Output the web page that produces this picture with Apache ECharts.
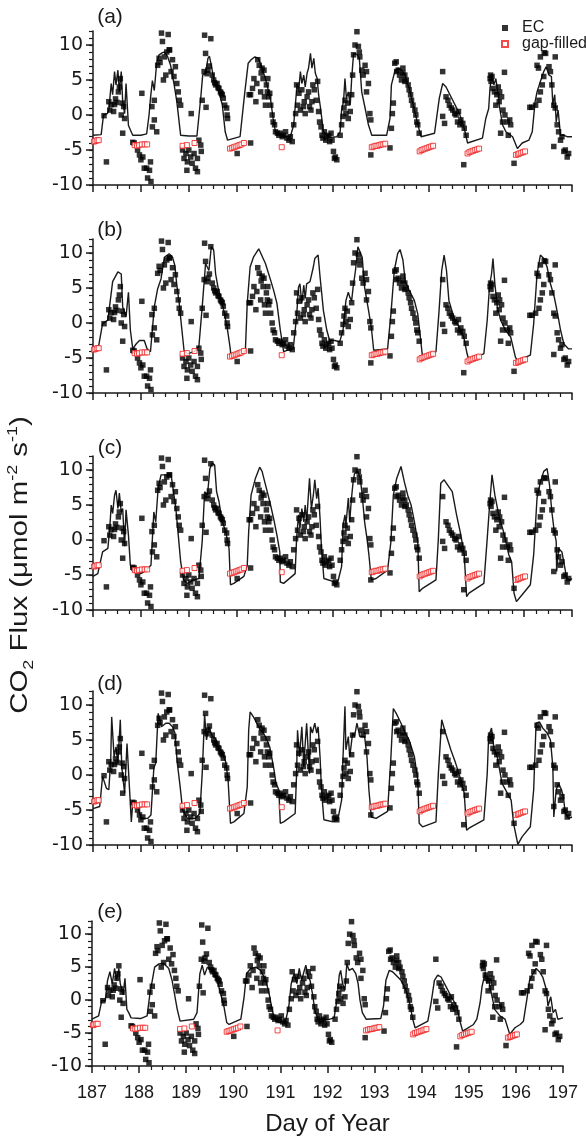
<!DOCTYPE html>
<html>
<head>
<meta charset="utf-8">
<script src="https://cdn.jsdelivr.net/npm/echarts@6/dist/echarts.min.js"></script>
<style>
html, body { margin: 0; padding: 0; background: #fff; }
#chart { width: 586px; height: 1137px; }
</style>
</head>
<body>
<div id="chart"></div>
<script>
// eddy covariance observations [day of year, flux], same in every panel
var ecObs = [
  [187.23,-0.1],[187.28,-6.7],[187.33,1.9],[187.35,0.7],[187.38,1.5],[187.43,0.5],[187.45,1.5],[187.47,2.3],[187.5,1.8],[187.53,3.3],[187.55,4.0],[187.57,5.2],[187.59,0],[187.61,1.7],[187.62,-2.6],[187.64,1.2],[187.66,-0.5],
  [187.83,-3.9],[187.86,-4.0],[187.93,-5.0],[187.97,-5.7],[188.0,-6.4],[188.02,3.1],[188.04,-6.0],[188.07,-7.6],[188.12,-7.6],[188.14,-9.0],[188.18,-7.9],[188.2,-6.7],[188.21,-9.5],
  [188.23,1.2],[188.24,-1.7],[188.28,-0.7],[188.28,2.1],[188.33,-2.4],[188.35,7.1],[188.38,8.1],[188.4,7.5],[188.43,11.7],[188.45,10.5],[188.47,5.0],[188.49,8.3],[188.52,5.7],[188.54,9.0],[188.57,11.5],[188.59,9.3],[188.6,9.3],[188.63,6.2],[188.66,7.9],[188.69,5.5],[188.72,6.9],[188.75,4.5],[188.78,3.3],[188.8,2.1],[188.83,1.4],
  [188.87,-5.0],[188.9,-6.2],[188.94,-5.5],[188.96,-7.9],[188.97,-6.7],[189.0,-5.0],[189.04,-6.0],[189.05,0.2],[189.07,-6.9],[189.11,-5.5],[189.14,-7.6],[189.18,-8.1],[189.18,-6.2],[189.21,-3.6],[189.25,-4.3],[189.26,-5.2],
  [189.28,2.1],[189.32,6.2],[189.33,11.4],[189.35,8.8],[189.36,1.1],[189.38,5.9],[189.4,6.4],[189.43,7.0],[189.46,10.9],[189.49,5.7],[189.52,5.0],[189.54,4.6],[189.56,4.3],[189.59,4.5],[189.61,3.9],[189.63,3.8],[189.66,3.3],[189.68,3.1],[189.7,2.9],[189.72,2.4],[189.75,1.4],[189.79,1.0],[189.8,0],[189.81,-0.5],
  [190.01,-5.5],[190.29,-4.0],
  [190.26,2.9],[190.29,2.9],[190.33,3.8],[190.36,5.2],[190.4,1.9],[190.42,4.5],[190.44,7.9],[190.47,7.1],[190.5,3.3],[190.51,6.0],[190.53,6.7],[190.55,5.2],[190.57,6.4],[190.58,2.6],[190.6,1.4],[190.62,4.3],[190.64,3.3],[190.65,5.2],[190.67,2.6],[190.69,3.1],[190.71,1.4],[190.74,0],[190.76,-1.0],[190.79,-1.4],[190.81,-2.4],[190.85,-2.6],[190.88,-2.9],[190.91,-2.6],[190.95,-3.1],[190.98,-2.9],[191.02,-2.4],[191.05,-3.3],[191.09,-3.6],[191.12,-3.1],[191.16,-3.8],
  [191.19,-1.4],[191.23,0.2],[191.25,4.3],[191.27,1.4],[191.3,3.1],[191.33,0.7],[191.36,3.6],[191.39,1.2],[191.41,1.9],[191.43,0.2],[191.47,2.6],[191.5,3.3],[191.52,1.2],[191.55,0.7],[191.57,1.9],[191.59,4.3],[191.62,3.6],[191.66,2.1],[191.69,4.8],[191.71,0.5],[191.73,-1.0],[191.76,-1.7],[191.78,-2.9],[191.8,-3.3],[191.83,-2.4],[191.86,-3.6],[191.88,-3.1],[191.92,-2.9],[191.94,-3.8],[191.97,-2.6],[191.99,-3.6],[192.02,-5.2],[192.04,-6.2],[192.06,-6.0],[192.09,-6.4],
  [192.16,-2.9],[192.19,-1.4],[192.22,-0.2],[192.24,1.0],[192.26,2.1],[192.28,0.2],[192.31,1.7],[192.33,-0.5],[192.37,0.5],[192.4,2.9],[192.42,5.7],[192.44,8.6],[192.47,10.0],[192.51,11.9],[192.54,9.8],[192.56,9.0],[192.57,8.3],[192.61,6.4],[192.64,5.7],[192.68,7.1],[192.71,6.2],[192.71,3.3],[192.75,4.5],[192.78,0.2],[192.8,-0.7],[192.8,-5.7],[193.2,-4.7],
  [193.23,-1.9],[193.25,0.2],[193.27,1.7],[193.3,7.4],[193.33,7.6],[193.34,6.2],[193.37,6.4],[193.4,5.7],[193.44,5.0],[193.47,6.0],[193.47,6.7],[193.51,4.8],[193.51,5.7],[193.54,5.0],[193.58,4.3],[193.6,3.6],[193.63,2.9],[193.65,2.1],[193.68,1.4],[193.72,0.7],[193.74,0],[193.76,-1.0],[193.78,-1.4],[193.81,-2.6],
  [194.3,6.2],[194.3,-0.2],[194.34,-1.2],[194.37,2.6],[194.41,2.1],[194.44,1.4],[194.48,1.0],[194.51,0.7],[194.55,0.2],[194.58,0],[194.61,-1.0],[194.63,0.5],[194.66,-1.4],[194.68,-0.7],[194.72,-1.2],[194.74,-7.1],[194.75,-1.9],[194.79,-2.9],
  [195.29,5.2],[195.3,5.7],[195.31,4.8],[195.33,5.5],[195.35,3.8],[195.38,3.3],[195.41,1.4],[195.43,2.9],[195.46,4.0],[195.48,1.9],[195.49,3.3],[195.51,-2.6],[195.53,2.6],[195.55,-1.0],[195.56,0.7],[195.59,6.1],[195.6,0],[195.65,-1.0],[195.67,-2.9],[195.7,-0.7],[195.72,-1.4],[195.79,-6.9],
  [196.12,1.1],[196.16,1.1],[196.24,1.4],[196.27,7.1],[196.3,6.7],[196.31,2.1],[196.34,3.3],[196.34,8.3],[196.38,4.3],[196.41,5.5],[196.42,8.9],[196.45,8.8],[196.52,6.9],[196.55,6.2],[196.58,4.3],[196.62,1.4],[196.62,-4.5],[196.65,8.3],[196.65,1.0],[196.69,-1.4],[196.72,-2.4],[196.76,-3.6],[196.79,-3.1],[196.83,-5.2],[196.86,-5.0],[196.9,-6.0],[196.93,-5.5]
];

// gap-filled night values
var gapFilled = [
  [187.02,-3.8],[187.05,-3.7],[187.09,-3.6],[187.12,-3.6],
  [187.87,-4.3],[187.92,-4.4],[187.96,-4.3],[188.02,-4.2],[188.08,-4.2],[188.13,-4.2],
  [188.87,-4.4],[188.96,-4.3],[189.12,-4.0],
  [189.86,-4.8],[189.9,-4.7],[189.94,-4.6],[189.98,-4.5],[190.02,-4.4],[190.06,-4.3],[190.1,-4.2],[190.15,-4.0],
  [190.94,-4.6],
  [192.82,-4.6],[192.86,-4.5],[192.9,-4.4],[192.94,-4.4],[192.98,-4.3],[193.02,-4.2],[193.06,-4.2],[193.1,-4.1],
  [193.82,-5.2],[193.86,-5.0],[193.9,-4.9],[193.94,-4.8],[193.98,-4.7],[194.02,-4.6],[194.06,-4.5],[194.1,-4.4],
  [194.82,-5.5],[194.86,-5.3],[194.9,-5.2],[194.94,-5.1],[194.98,-5.0],[195.02,-4.9],[195.06,-4.8],
  [195.83,-5.7],[195.87,-5.6],[195.9,-5.5],[195.94,-5.4],[195.98,-5.3],[196.02,-5.2]
];

// modelled flux, one line per panel
var modelA = [
  [187.0,-2.9],[187.17,-2.8],[187.22,0],[187.3,0.2],[187.33,0.7],[187.38,4.5],[187.41,2.9],[187.45,6.2],[187.48,4.3],[187.52,6.4],[187.55,3.3],[187.59,6.2],[187.62,1.9],[187.66,0.2],[187.69,4.5],[187.74,-1.5],[187.78,-1.7],[187.83,-2.9],
  [188.0,-2.9],[188.12,-2.7],[188.17,0],[188.2,2.4],[188.24,4.9],[188.28,3.5],[188.33,7.5],[188.38,8.6],[188.45,8.9],[188.5,9.0],[188.56,8.3],[188.62,7.1],[188.69,4.5],[188.75,1.9],[188.83,-2.9],
  [189.0,-3.0],[189.17,-3.0],[189.25,2.5],[189.29,5.7],[189.35,6.0],[189.4,8.1],[189.43,8.4],[189.47,7.1],[189.53,4.8],[189.63,3.3],[189.7,1.4],[189.76,-2.4],[189.81,-3.6],
  [190.07,-3.1],[190.17,3.3],[190.24,7.4],[190.3,7.9],[190.38,8.3],[190.45,8.1],[190.53,6.7],[190.6,5.2],[190.65,3.8],[190.71,2.1],[190.76,-0.5],[190.81,-2.4],[190.85,-2.9],
  [191.12,-3.1],[191.19,-1.4],[191.23,1.9],[191.26,4.5],[191.29,3.3],[191.33,6.2],[191.36,4.5],[191.4,5.7],[191.43,4.0],[191.47,6.0],[191.5,6.7],[191.54,8.8],[191.57,6.7],[191.61,8.1],[191.64,6.0],[191.68,5.2],[191.71,2.9],[191.75,1.0],[191.81,-2.4],[191.88,-2.9],[191.95,-3.2],
  [192.09,-3.1],[192.16,-2.4],[192.19,0.7],[192.23,1.9],[192.26,5.2],[192.29,2.4],[192.33,3.3],[192.37,1.4],[192.4,5.2],[192.44,8.8],[192.47,9.0],[192.52,8.6],[192.56,8.1],[192.61,3.3],[192.68,1.0],[192.75,-1.4],[192.82,-2.9],
  [193.13,-2.9],[193.2,-0.5],[193.23,4.3],[193.3,6.2],[193.37,6.7],[193.44,6.4],[193.51,5.7],[193.61,3.6],[193.71,0.7],[193.82,-2.4],[193.85,-3.1],
  [194.13,-2.6],[194.23,2.4],[194.3,4.5],[194.37,4.0],[194.51,2.1],[194.65,0.2],[194.75,-1.9],[194.82,-4.0],
  [195.13,-3.3],[195.2,-0.5],[195.26,0.9],[195.29,4.0],[195.33,5.7],[195.37,4.3],[195.41,5.2],[195.45,3.3],[195.49,1.0],[195.55,-1.4],[195.62,-2.4],[195.76,-3.1],[195.86,-4.8],[195.96,-4.0],
  [196.1,-3.6],[196.17,-2.4],[196.23,1.9],[196.27,3.3],[196.34,4.8],[196.41,6.2],[196.46,6.9],[196.52,5.7],[196.57,5.5],[196.6,1.4],[196.64,2.9],[196.67,-1.0],[196.71,0.7],[196.76,-2.9],[196.83,-2.9],[196.9,-3.1],[197.0,-3.1]
];
var modelB = [
  [187.0,-3.7],[187.12,-3.2],[187.2,-0.1],[187.31,0.4],[187.41,5.9],[187.48,6.8],[187.52,7.3],[187.59,7.0],[187.62,2.3],[187.69,0.9],[187.74,4.4],[187.78,-1.0],[187.83,-3.7],[187.9,-3.0],[187.97,-2.5],
  [188.07,-2.5],[188.13,-3.7],[188.2,-4.1],[188.28,2.3],[188.35,4.9],[188.42,6.3],[188.49,9.4],[188.59,9.9],[188.66,9.4],[188.71,8.2],[188.75,5.4],[188.8,2.8],[188.85,-0.6],[188.9,-3.9],[188.97,-4.4],
  [189.11,-4.1],[189.21,-3.4],[189.28,2.3],[189.35,8.5],[189.42,7.5],[189.47,10.9],[189.52,10.4],[189.56,7.0],[189.61,5.1],[189.66,3.7],[189.73,1.8],[189.8,-0.6],[189.86,-3.4],[189.88,-4.6],
  [190.18,-4.1],[190.22,2.8],[190.28,8.0],[190.35,9.4],[190.46,10.6],[190.49,10.4],[190.6,8.5],[190.7,6.3],[190.77,4.7],[190.84,2.8],[190.91,-1.0],[190.98,-4.1],
  [191.05,-3.9],[191.18,-3.7],[191.25,0.9],[191.29,5.1],[191.32,5.6],[191.36,2.8],[191.4,5.4],[191.43,3.5],[191.46,5.6],[191.53,5.9],[191.6,8.0],[191.63,9.2],[191.67,9.4],[191.7,9.7],[191.74,6.6],[191.81,1.8],[191.88,-1.0],[191.94,-2.5],
  [192.05,-2.5],[192.15,-2.7],[192.22,-1.0],[192.28,3.2],[192.33,4.4],[192.36,3.7],[192.4,3.2],[192.43,5.1],[192.48,7.5],[192.53,10.9],[192.57,11.0],[192.62,9.4],[192.67,5.1],[192.74,2.3],[192.81,-0.6],[192.86,-3.9],
  [193.15,-3.7],[193.22,1.3],[193.29,7.5],[193.36,9.9],[193.41,10.5],[193.47,9.0],[193.52,5.9],[193.6,4.7],[193.71,3.2],[193.78,1.3],[193.85,-3.0],[193.88,-4.9],
  [194.16,-4.1],[194.22,1.3],[194.28,7.5],[194.33,9.7],[194.38,7.5],[194.43,3.2],[194.53,0.9],[194.64,-0.6],[194.74,-2.0],[194.81,-4.4],[194.84,-5.1],
  [195.16,-4.4],[195.23,0.4],[195.28,5.4],[195.32,7.0],[195.35,9.2],[195.39,5.6],[195.44,2.3],[195.51,0.4],[195.61,-1.0],[195.72,-2.0],[195.82,-4.9],[195.89,-5.6],[195.96,-5.1],
  [196.13,-4.6],[196.2,-0.1],[196.27,7.0],[196.34,9.7],[196.41,9.2],[196.48,8.0],[196.55,5.6],[196.63,3.7],[196.7,1.3],[196.76,-1.0],[196.83,-3.0],[196.93,-3.7],[197.0,-3.7]
];
var modelC = [
  [187.0,-5.2],[187.1,-4.8],[187.2,-1.7],[187.31,-1.2],[187.35,1.7],[187.38,5.0],[187.41,3.8],[187.45,6.4],[187.48,7.1],[187.52,4.5],[187.55,6.7],[187.59,4.0],[187.62,4.5],[187.66,-0.9],[187.69,4.3],[187.74,0.7],[187.78,-3.6],[187.83,-4.5],[187.9,-4.3],
  [188.0,-4.8],[188.11,-4.3],[188.21,-3.6],[188.27,4.0],[188.31,2.6],[188.36,7.4],[188.42,9.3],[188.49,9.3],[188.63,9.3],[188.68,6.9],[188.73,4.5],[188.78,0.7],[188.83,-3.1],[188.89,-5.7],[188.97,-6.2],
  [189.11,-5.7],[189.21,-5.5],[189.28,-0.2],[189.33,6.9],[189.39,6.4],[189.44,10.2],[189.49,11.0],[189.54,10.7],[189.58,6.9],[189.63,5.5],[189.7,2.6],[189.77,1.2],[189.84,-1.2],[189.87,-6.4],[189.94,-6.2],
  [190.15,-5.2],[190.22,-3.6],[190.25,1.2],[190.3,6.4],[190.39,8.8],[190.48,10.4],[190.53,9.8],[190.6,7.9],[190.69,5.5],[190.77,3.1],[190.84,0.7],[190.9,-1.7],[190.91,-6.0],[190.98,-6.2],
  [191.22,-4.8],[191.25,0.2],[191.29,3.6],[191.32,1.7],[191.36,4.5],[191.4,2.6],[191.43,5.0],[191.46,2.6],[191.52,8.8],[191.56,4.5],[191.6,6.4],[191.63,8.6],[191.67,5.9],[191.7,7.4],[191.74,3.1],[191.77,-1.2],[191.82,-5.5],
  [192.01,-5.9],[192.11,-6.0],[192.19,-3.8],[192.22,2.1],[192.26,3.6],[192.28,2.1],[192.33,6.0],[192.36,2.6],[192.39,5.5],[192.43,8.3],[192.46,9.5],[192.53,9.8],[192.58,8.8],[192.62,6.4],[192.67,2.6],[192.72,0.2],[192.76,-2.1],[192.81,-5.7],[192.91,-5.5],
  [193.15,-4.3],[193.22,-0.2],[193.27,6.4],[193.34,8.8],[193.43,10.5],[193.5,8.3],[193.57,6.4],[193.64,5.0],[193.71,2.6],[193.78,-0.2],[193.81,-7.4],[193.88,-6.9],
  [194.16,-5.7],[194.21,0.2],[194.26,8.1],[194.33,8.6],[194.43,7.6],[194.5,6.9],[194.59,3.6],[194.68,0.7],[194.75,-2.1],[194.8,-8.1],[194.85,-7.6],
  [195.16,-6.2],[195.23,0.2],[195.28,5.0],[195.33,9.3],[195.39,6.4],[195.47,3.6],[195.57,1.2],[195.68,-2.1],[195.74,-3.1],[195.79,-7.6],[195.84,-8.8],[195.95,-7.9],
  [196.13,-6.4],[196.2,-2.1],[196.27,6.0],[196.34,8.3],[196.41,9.8],[196.48,10.2],[196.53,7.9],[196.58,4.0],[196.63,1.2],[196.67,-0.2],[196.68,-4.5],[196.72,-1.2],[196.79,-1.7],[196.84,-3.6],[196.89,-5.5],[196.96,-5.7],[197.0,-5.5]
];
var modelD = [
  [187.0,-4.8],[187.14,-4.5],[187.2,-0.2],[187.28,-1.9],[187.33,-2.1],[187.37,2.1],[187.39,8.3],[187.44,2.6],[187.48,4.0],[187.52,1.7],[187.57,7.9],[187.6,1.2],[187.66,-2.6],[187.71,4.5],[187.76,-1.7],[187.8,-6.7],[187.83,-4.0],[187.93,-4.3],
  [188.0,-6.2],[188.14,-6.2],[188.21,-5.7],[188.27,1.0],[188.31,1.7],[188.36,8.8],[188.43,6.9],[188.52,7.4],[188.59,7.4],[188.66,6.9],[188.71,6.0],[188.76,1.7],[188.82,-1.7],[188.87,-5.0],[188.97,-6.2],
  [189.14,-6.2],[189.23,-5.5],[189.28,0.2],[189.33,8.6],[189.37,5.0],[189.42,6.9],[189.49,5.5],[189.56,5.2],[189.63,3.6],[189.7,3.1],[189.77,1.9],[189.82,-0.7],[189.87,-6.9],[189.94,-6.7],
  [190.15,-5.5],[190.22,-1.7],[190.25,6.4],[190.28,9.0],[190.35,8.3],[190.42,7.4],[190.49,6.4],[190.56,6.0],[190.63,5.0],[190.69,4.0],[190.73,2.6],[190.78,0.7],[190.82,-1.2],[190.88,-2.1],[190.91,-6.9],[190.98,-6.7],
  [191.22,-5.5],[191.25,0.2],[191.27,6.4],[191.31,2.6],[191.36,6.9],[191.4,1.2],[191.43,4.5],[191.46,7.4],[191.52,0.2],[191.54,6.9],[191.58,6.0],[191.63,7.4],[191.67,6.0],[191.7,6.9],[191.74,2.6],[191.77,-2.1],[191.82,-6.4],
  [192.01,-6.7],[192.11,-6.4],[192.19,-3.6],[192.22,2.6],[192.26,9.8],[192.28,3.6],[192.33,5.5],[192.36,2.6],[192.42,6.0],[192.46,5.5],[192.51,7.4],[192.57,5.5],[192.67,5.5],[192.72,2.6],[192.76,-2.1],[192.81,-6.0],[192.91,-6.2],
  [193.15,-5.2],[193.22,2.6],[193.27,9.5],[193.33,8.8],[193.43,7.4],[193.52,6.0],[193.6,5.0],[193.71,2.6],[193.78,-0.7],[193.81,-6.9],[193.88,-7.4],
  [194.16,-6.7],[194.21,0.2],[194.28,7.9],[194.36,6.0],[194.47,3.6],[194.57,1.7],[194.68,-0.7],[194.75,-2.6],[194.8,-7.9],[194.85,-7.6],
  [195.16,-6.4],[195.23,0.2],[195.26,5.5],[195.32,6.7],[195.37,3.8],[195.44,2.6],[195.54,-1.2],[195.65,-2.6],[195.73,-3.6],[195.78,-6.9],[195.87,-9.9],[195.96,-8.8],
  [196.13,-7.4],[196.2,-2.1],[196.25,7.4],[196.32,7.6],[196.39,6.7],[196.48,6.0],[196.55,5.0],[196.6,1.2],[196.62,-6.0],[196.67,-2.1],[196.72,-1.2],[196.78,-2.1],[196.82,-3.1],[196.86,-5.5],[196.93,-6.2],[197.0,-6.0]
];
var modelE = [
  [187.0,-2.9],[187.14,-2.4],[187.21,0.0],[187.28,-0.2],[187.33,3.0],[187.38,4.3],[187.43,2.5],[187.48,4.8],[187.52,3.0],[187.57,4.8],[187.6,2.5],[187.66,0.8],[187.7,3.3],[187.74,-1.4],[187.78,-1.9],[187.83,-2.7],
  [188.03,-2.8],[188.17,-2.4],[188.23,1.0],[188.28,3.0],[188.33,5.0],[188.42,5.5],[188.52,5.6],[188.63,4.8],[188.7,3.0],[188.75,1.0],[188.81,-1.4],[188.87,-3.2],
  [189.16,-2.9],[189.23,-1.9],[189.29,4.0],[189.34,5.3],[189.39,3.8],[189.45,5.0],[189.55,4.5],[189.66,3.0],[189.73,1.0],[189.8,-0.9],[189.86,-3.4],[189.91,-3.7],
  [190.16,-2.9],[190.23,0.5],[190.28,4.0],[190.37,4.8],[190.48,5.0],[190.58,4.5],[190.69,3.0],[190.76,1.0],[190.81,-0.9],[190.87,-2.9],[190.97,-3.4],
  [191.11,-3.2],[191.18,-0.9],[191.23,2.5],[191.29,4.0],[191.35,2.5],[191.4,4.8],[191.45,3.0],[191.5,4.3],[191.54,5.3],[191.59,3.5],[191.63,3.0],[191.68,1.0],[191.73,-1.4],[191.79,-2.9],
  [192.0,-3.0],[192.14,-2.7],[192.2,0.0],[192.25,3.8],[192.28,4.5],[192.32,2.5],[192.37,1.5],[192.41,5.5],[192.46,4.5],[192.53,4.8],[192.6,4.0],[192.65,2.5],[192.69,0.0],[192.74,-1.9],[192.82,-2.9],
  [193.13,-2.8],[193.19,-0.9],[193.24,3.0],[193.31,4.5],[193.38,4.3],[193.45,3.8],[193.56,3.0],[193.67,1.5],[193.74,-0.4],[193.81,-2.9],[193.86,-4.2],
  [194.13,-3.2],[194.2,-0.4],[194.27,3.0],[194.34,3.8],[194.41,3.5],[194.52,2.0],[194.63,0.5],[194.74,-0.9],[194.82,-3.4],[194.87,-4.7],
  [195.1,-3.7],[195.17,-2.9],[195.24,-0.4],[195.28,2.0],[195.31,3.0],[195.35,4.3],[195.38,2.5],[195.41,3.5],[195.48,1.0],[195.55,-1.4],[195.66,-2.4],[195.77,-2.9],[195.87,-5.2],[195.98,-4.2],
  [196.09,-3.7],[196.16,-3.2],[196.23,0.0],[196.29,3.0],[196.36,4.0],[196.43,4.8],[196.5,4.3],[196.57,3.5],[196.65,1.5],[196.68,-0.9],[196.74,0.5],[196.79,-1.9],[196.84,-1.4],[196.89,-2.9],[197.0,-2.7]
];

var modelLines = [modelA, modelB, modelC, modelD, modelE];
var panelNames = ['(a)', '(b)', '(c)', '(d)', '(e)'];
var dayRange = [187, 197];
var fluxRange = [-10, 12];
var fluxTicks = [-10, -5, 0, 5, 10];
var fluxMinorTicks = [-10,-9,-8,-7,-6,-5,-4,-3,-2,-1,0,1,2,3,4,5,6,7,8,9,10,11,12];

// panel boxes in px
var boxes = [
  {left: 93, right: 14, top: 31, height: 154, labelY: 17},
  {left: 93, right: 14, top: 239, height: 154, labelY: 230},
  {left: 93, right: 14, top: 456, height: 154, labelY: 448},
  {left: 93, right: 14, top: 691, height: 154, labelY: 684},
  {left: 92, right: 23, top: 921, height: 149, labelY: 912}
];

var ink = '#1a1a1a';
var red = '#f01c1c';
var sans = 'Liberation Sans, Arial, sans-serif';
var grids = [], xAxes = [], yAxes = [], series = [], graphics = [];

boxes.forEach(function (b, i) {
  var last = i === boxes.length - 1;
  grids.push({left: b.left, right: b.right, top: b.top, height: b.height, containLabel: false});
  xAxes.push({
    type: 'value', gridIndex: i, min: dayRange[0], max: dayRange[1], interval: 1,
    axisLine: {onZero: false, lineStyle: {color: ink, width: 1.5}},
    axisTick: {length: 7, lineStyle: {color: ink, width: 1.5}},
    minorTick: {show: true, splitNumber: 4, length: 4, lineStyle: {color: ink, width: 1.2}},
    splitLine: {show: false},
    axisLabel: {show: last, margin: 18, fontSize: 18, color: ink, fontFamily: sans},
    name: last ? 'Day of Year' : '', nameLocation: 'middle', nameGap: 46,
    nameTextStyle: {fontSize: 24, color: ink, fontFamily: sans}
  });
  // major ticks + labels
  yAxes.push({
    type: 'value', gridIndex: i, position: 'left', min: fluxRange[0], max: fluxRange[1],
    axisLine: {onZero: false, show: true, lineStyle: {color: ink, width: 1.5}},
    axisTick: {length: 7, customValues: fluxTicks, lineStyle: {color: ink, width: 1.5}},
    axisLabel: {customValues: fluxTicks, margin: 10, fontSize: 19, color: ink, fontFamily: 'DejaVu Sans, sans-serif'},
    splitLine: {show: false}
  });
  // minor ticks
  yAxes.push({
    type: 'value', gridIndex: i, position: 'left', offset: 0, min: fluxRange[0], max: fluxRange[1],
    axisLine: {onZero: false, show: false},
    axisTick: {length: 4, customValues: fluxMinorTicks, lineStyle: {color: ink, width: 1.2}},
    axisLabel: {show: false},
    splitLine: {show: false}
  });

  series.push({
    type: 'line', name: 'model', xAxisIndex: i, yAxisIndex: 2 * i,
    data: modelLines[i], showSymbol: false, symbol: 'none',
    lineStyle: {color: ink, width: 1.4}, z: 2, silent: true
  });
  series.push({
    type: 'scatter', name: 'EC', xAxisIndex: i, yAxisIndex: 2 * i,
    data: ecObs, symbol: 'rect', symbolSize: 5.5,
    itemStyle: {color: '#000'}, z: 3
  });
  series.push({
    type: 'scatter', name: 'gap-filled', xAxisIndex: i, yAxisIndex: 2 * i,
    data: gapFilled, symbol: 'rect', symbolSize: 5,
    itemStyle: {color: '#fff', borderColor: red, borderWidth: 1}, z: 4
  });

  graphics.push({
    type: 'text', x: 110, y: b.labelY,
    style: {text: panelNames[i], fontSize: 21, fill: ink, align: 'center', verticalAlign: 'middle', fontFamily: sans}
  });
});

// y-axis title, stretched along its baseline like the original
graphics.push({
  type: 'text', x: 21, y: 565, rotation: Math.PI / 2, scaleX: 1.28,
  style: {
    text: '{n|CO}{sub|2}{n| Flux (\u03bcmol m}{sup|-2}{n| s}{sup|-1}{n|)}',
    align: 'center', verticalAlign: 'middle',
    rich: {
      n: {fontSize: 23, fill: ink, lineHeight: 30, fontFamily: sans},
      sub: {fontSize: 14, fill: ink, lineHeight: 30, verticalAlign: 'bottom', fontFamily: sans},
      sup: {fontSize: 14, fill: ink, lineHeight: 30, verticalAlign: 'top', fontFamily: sans}
    }
  }
});

var chart = echarts.init(document.getElementById('chart'), null, {renderer: 'canvas'});
chart.setOption({
  animation: false,
  backgroundColor: '#fff',
  grid: grids,
  xAxis: xAxes,
  yAxis: yAxes,
  legend: {
    data: ['EC', 'gap-filled'], orient: 'vertical', left: 496, top: 15,
    itemWidth: 6, itemHeight: 6, itemGap: 0,
    textStyle: {fontSize: 16, lineHeight: 14, padding: [0, 0, 0, 9], color: ink, fontFamily: sans}
  },
  graphic: graphics,
  series: series
});
</script>
</body>
</html>
